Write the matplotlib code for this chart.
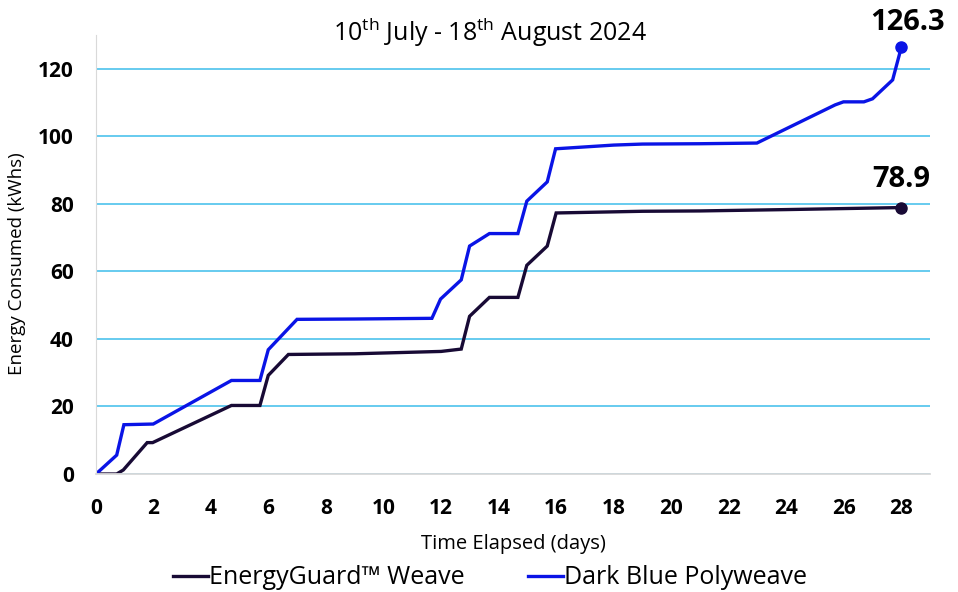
import matplotlib.pyplot as plt

plt.rcParams['font.family'] = ['Open Sans', 'DejaVu Sans']
plt.rcParams['mathtext.fontset'] = 'custom'
plt.rcParams['mathtext.rm'] = 'Open Sans'

# Dark Blue Polyweave readings (days, kWh)
blue_days = [0, 0.72, 0.97, 1.99, 4.71, 5.70, 5.99, 6.99, 9.0, 11.68, 11.98, 12.70,
             12.99, 13.68, 14.67, 14.98, 15.69, 15.98, 18.0, 19.0, 21.0, 22.98,
             25.7, 25.99, 26.7, 27.0, 27.7, 28.0]
blue_kwh = [0, 5.6, 14.6, 14.8, 27.7, 27.7, 36.8, 45.8, 45.9, 46.1, 51.8, 57.5,
            67.5, 71.2, 71.2, 80.8, 86.5, 96.3, 97.4, 97.7, 97.8, 98.0,
            109.3, 110.2, 110.2, 111.1, 116.7, 126.3]

# EnergyGuard Weave readings (days, kWh)
black_days = [0, 0.72, 0.95, 1.78, 1.97, 4.71, 5.70, 5.99, 6.69, 9.0, 12.0, 12.70,
              12.99, 13.68, 14.67, 14.98, 15.69, 16.0, 19.0, 21.0, 24.0, 28.0]
black_kwh = [0, 0, 1.2, 9.3, 9.3, 20.3, 20.3, 29.2, 35.4, 35.6, 36.3, 37.0,
             46.7, 52.3, 52.3, 61.8, 67.5, 77.3, 77.8, 77.9, 78.3, 78.9]

blue_col = '#0A14E6'
dark_col = '#180A35'

fig = plt.figure(figsize=(9.58, 5.92), dpi=100)
ax = fig.add_axes([0.1002, 0.1993, 0.8706, 0.7416])

ax.plot(black_days, black_kwh, color=dark_col, lw=2.4, label='EnergyGuard™ Weave',
        solid_joinstyle='miter')
ax.plot(blue_days, blue_kwh, color=blue_col, lw=2.4, label='Dark Blue Polyweave',
        solid_joinstyle='miter')
ax.plot(black_days[-1], black_kwh[-1], 'o', color=dark_col, ms=8)
ax.plot(blue_days[-1], blue_kwh[-1], 'o', color=blue_col, ms=8)

ax.text(black_days[-1], black_kwh[-1] + 4.0, f"{black_kwh[-1]:.1f}", ha='center', va='bottom',
        fontsize=21, fontweight='bold')
ax.text(blue_days[-1] + 0.22, blue_kwh[-1] + 3.0, f"{blue_kwh[-1]:.1f}", ha='center', va='bottom',
        fontsize=21, fontweight='bold')

ax.set_xlim(0, 29)
ax.set_ylim(0, 130)
ax.set_xticks(range(0, 29, 2))
ax.set_yticks(range(0, 121, 20))
ax.tick_params(axis='x', length=0, labelsize=15, pad=17)
ax.tick_params(axis='y', length=0, labelsize=15, pad=16)
for lab in ax.get_xticklabels() + ax.get_yticklabels():
    lab.set_fontweight('bold')

ax.yaxis.grid(True, color='#3DBDEB', lw=1.1)
ax.set_axisbelow(True)
for s in ['top', 'right']:
    ax.spines[s].set_visible(False)
ax.spines['left'].set_color('#D9D9D9')
ax.spines['bottom'].set_color('#D9D9D9')
ax.spines['bottom'].set_linewidth(1.3)

ax.set_xlabel('Time Elapsed (days)', fontsize=14.5, labelpad=11)
fig.text(17 / 958, 1 - 264 / 592, 'Energy Consumed (kWhs)', fontsize=13.5,
         rotation=90, ha='center', va='center')
fig.text(490 / 958, 1 - 32 / 592, r'10$^{\mathrm{th}}$ July - 18$^{\mathrm{th}}$ August 2024',
         fontsize=18, ha='center', va='center')

fig.legend(loc='center', bbox_to_anchor=(490 / 958, 1 - 578 / 592), ncol=2, frameon=False,
           fontsize=18, handlelength=1.4, handletextpad=0.05, columnspacing=2.5,
           borderaxespad=0, borderpad=0)

fig.savefig('out.png', dpi=100)
